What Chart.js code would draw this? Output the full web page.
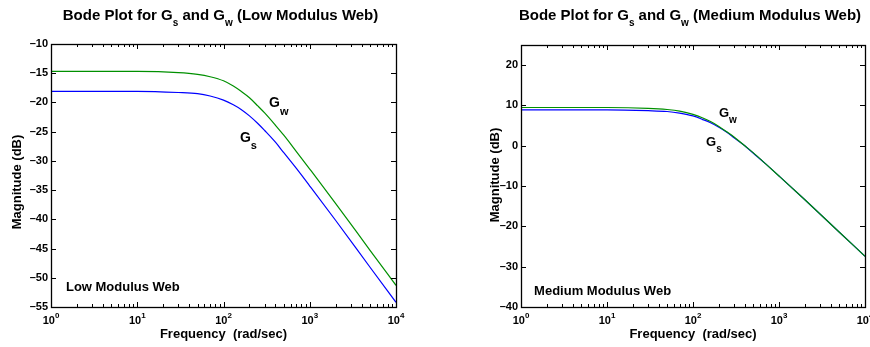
<!DOCTYPE html>
<html>
<head>
<meta charset="utf-8">
<script src="https://cdn.jsdelivr.net/npm/chart.js@4"></script>
<style>
  html, body { margin: 0; padding: 0; background: #fff; }
  body { width: 870px; height: 347px; position: relative; overflow: hidden; }
  canvas { position: absolute; top: 0; }
  #low { left: 0; }
  #med { left: 435px; }
</style>
</head>
<body>
<canvas id="low" width="435" height="347"></canvas>
<canvas id="med" width="435" height="347"></canvas>
<script>
// frequency points (rad/sec)
const freq = [1, 3, 10, 30, 50, 70, 100, 130, 160, 200, 250, 300, 400, 500, 700, 1000, 2000, 5000, 10000];

// low modulus web, magnitude (dB)
const lowGs = [-18.1, -18.1, -18.1, -18.3, -18.5, -18.9, -19.6, -20.4, -21.2, -22.3, -23.6, -24.8, -26.8, -28.6, -31.3, -34.3, -40.2, -48.2, -54.2];
const lowGw = [-14.7, -14.7, -14.7, -14.9, -15.2, -15.6, -16.3, -17.2, -18.1, -19.2, -20.6, -21.8, -23.9, -25.6, -28.4, -31.4, -37.3, -45.3, -51.3];

// medium modulus web, magnitude (dB)
const medGs = [8.9, 8.9, 8.9, 8.7, 8.5, 8.1, 7.4, 6.5, 5.7, 4.6, 3.3, 2.0, 0.0, -1.8, -4.5, -7.5, -13.4, -21.4, -27.4];
const medGw = [9.5, 9.5, 9.5, 9.3, 9.0, 8.6, 7.8, 6.9, 6.0, 4.8, 3.4, 2.2, 0.0, -1.7, -4.5, -7.5, -13.4, -21.4, -27.4];

// axis ticks
const xDecades = [1, 10, 100, 1000, 10000];
const xExponents = ["0", "1", "2", "3", "4"];
const yTicksLow = [-55, -50, -45, -40, -35, -30, -25, -20, -15, -10];
const yTicksMed = [-40, -30, -20, -10, 0, 10, 20];

const FAMILY = "'Liberation Sans', Arial, Helvetica, sans-serif";
const bold = (sz) => "bold " + sz + "px " + FAMILY;

// draw a run of text pieces: [text, size, dy]
function drawParts(ctx, parts, x, y, align) {
  let w = 0;
  parts.forEach((p) => { ctx.font = bold(p[1]); w += ctx.measureText(p[0]).width; });
  let cx = align === "center" ? x - w / 2 : x;
  ctx.textAlign = "left";
  ctx.textBaseline = "alphabetic";
  parts.forEach((p) => {
    ctx.font = bold(p[1]);
    ctx.fillText(p[0], cx, y + (p[2] || 0));
    cx += ctx.measureText(p[0]).width;
  });
}

function makeBode(id, cfg) {
  const matlabAxes = {
    id: "matlabAxes",
    afterDraw(chart) {
      const ctx = chart.ctx;
      const { left, right, top, bottom } = chart.chartArea;
      const xs = chart.scales.x, ys = chart.scales.y;
      ctx.save();
      ctx.strokeStyle = "#000";
      ctx.fillStyle = "#000";
      ctx.lineWidth = 1;

      // inward tick marks
      ctx.beginPath();
      cfg.yTicks.forEach((v) => {
        const py = Math.round(ys.getPixelForValue(v)) + 0.5;
        ctx.moveTo(left, py); ctx.lineTo(left + 5, py);
        ctx.moveTo(right, py); ctx.lineTo(right - 5, py);
      });
      xDecades.forEach((d, i) => {
        const last = i === xDecades.length - 1;
        for (let m = 1; m <= (last ? 1 : 9); m++) {
          const px = Math.round(xs.getPixelForValue(d * m)) + 0.5;
          const len = m === 1 ? 5 : 3;
          ctx.moveTo(px, bottom); ctx.lineTo(px, bottom - len);
          ctx.moveTo(px, top); ctx.lineTo(px, top + len);
        }
      });
      ctx.stroke();

      // box
      ctx.lineWidth = 1.3;
      ctx.strokeRect(Math.round(left) + 0.5, Math.round(top) + 0.5, Math.round(right - left), Math.round(bottom - top));

      // x tick labels 10^n
      xDecades.forEach((d, i) => {
        drawParts(ctx, [["10", 11, 0], [xExponents[i], 8, -6]], xs.getPixelForValue(d), bottom + 17, "center");
      });

      const midX = (left + right) / 2;
      drawParts(ctx, [["Frequency  (rad/sec)", 13, 0]], midX, 338, "center");
      drawParts(ctx, cfg.title, midX - 3, 20, "center");

      ctx.save();
      ctx.translate(cfg.ylabelX, cfg.ylabelY);
      ctx.rotate(-Math.PI / 2);
      ctx.font = bold(13);
      ctx.textAlign = "center";
      ctx.textBaseline = "middle";
      ctx.fillText("Magnitude (dB)", 0, 0);
      ctx.restore();

      // text notes placed in data coordinates
      cfg.notes.forEach((n) => {
        drawParts(ctx, n.parts, xs.getPixelForValue(n.x), ys.getPixelForValue(n.y), "left");
      });
      ctx.restore();
    }
  };

  return new Chart(document.getElementById(id), {
    type: "line",
    data: {
      datasets: [
        {
          label: "Gw",
          data: freq.map((f, i) => ({ x: f, y: cfg.gw[i] })),
          borderColor: "#009000",
          borderWidth: 1.2,
          pointRadius: 0,
          cubicInterpolationMode: "monotone"
        },
        {
          label: "Gs",
          data: freq.map((f, i) => ({ x: f, y: cfg.gs[i] })),
          borderColor: "#0000ff",
          borderWidth: 1.2,
          pointRadius: 0,
          cubicInterpolationMode: "monotone"
        }
      ]
    },
    options: {
      responsive: false,
      animation: false,
      devicePixelRatio: 1,
      layout: { padding: cfg.padding },
      plugins: { legend: { display: false }, tooltip: { enabled: false } },
      scales: {
        x: {
          type: "logarithmic",
          min: 1,
          max: 10000,
          ticks: { display: false },
          grid: { display: false, drawTicks: false },
          border: { display: false },
          afterFit: (s) => { s.height = 0; }
        },
        y: {
          min: cfg.yMin,
          max: cfg.yMax,
          afterBuildTicks: (s) => { s.ticks = cfg.yTicks.map((v) => ({ value: v })); },
          ticks: {
            padding: 3,
            color: "#000",
            font: { family: FAMILY, size: 11, weight: "bold" },
            callback: (v) => String(v).replace("-", "\u2013")
          },
          grid: { display: false, drawTicks: false },
          border: { display: false },
          afterFit: (s) => { s.width = cfg.yWidth; }
        }
      }
    },
    plugins: [matlabAxes]
  });
}

makeBode("low", {
  gs: lowGs, gw: lowGw,
  yMin: -55, yMax: -10, yTicks: yTicksLow,
  yWidth: 51,
  padding: { left: 0, top: 44, right: 39, bottom: 40 },
  ylabelX: 17, ylabelY: 182,
  title: [["Bode Plot for G", 15, 0], ["s", 10, 6], [" and G", 15, 0], ["w", 10, 6], [" (Low Modulus Web)", 15, 0]],
  notes: [
    { x: 337, y: -20.7, parts: [["G", 14, 0], ["w", 11, 8]] },
    { x: 155, y: -26.7, parts: [["G", 14, 0], ["s", 11, 7]] },
    { x: 1.49, y: -52.3, parts: [["Low Modulus Web", 13, 0]] }
  ]
});

makeBode("med", {
  gs: medGs, gw: medGw,
  yMin: -40, yMax: 25, yTicks: yTicksMed,
  yWidth: 51,
  padding: { left: 35, top: 45, right: 5, bottom: 40 },
  ylabelX: 60, ylabelY: 175,
  title: [["Bode Plot for G", 15, 0], ["s", 10, 6], [" and G", 15, 0], ["w", 10, 6], [" (Medium Modulus Web)", 15, 0]],
  notes: [
    { x: 200, y: 7.1, parts: [["G", 13, 0], ["w", 10, 6]] },
    { x: 142, y: -0.1, parts: [["G", 13, 0], ["s", 10, 6]] },
    { x: 1.42, y: -37.0, parts: [["Medium Modulus Web", 13, 0]] }
  ]
});
</script>
</body>
</html>
